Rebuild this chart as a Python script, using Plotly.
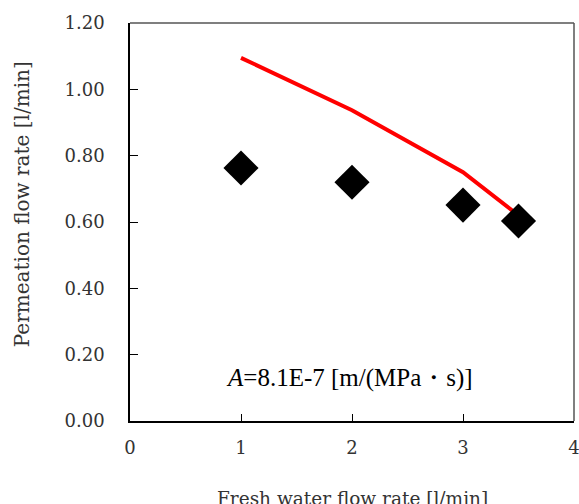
import plotly.graph_objects as go

meas_x = [1, 2, 3, 3.5]
meas_y = [0.763, 0.720, 0.651, 0.603]
calc_x = [1, 2, 3, 3.5]
calc_y = [1.095, 0.937, 0.750, 0.620]
x_ticks = [0, 1, 2, 3, 4]
y_ticks = [0.0, 0.2, 0.4, 0.6, 0.8, 1.0, 1.2]
y_tick_labels = ["0.00", "0.20", "0.40", "0.60", "0.80", "1.00", "1.20"]

FONT = "DejaVu Serif"
AFONT = "Liberation Serif"
TXT = "#333"

fig = go.Figure()
fig.add_trace(go.Scatter(x=calc_x, y=calc_y, mode="lines",
                         line=dict(color="#ff0000", width=4), showlegend=False))
fig.add_trace(go.Scatter(x=meas_x, y=meas_y, mode="markers",
                         marker=dict(symbol="diamond", size=27, color="black"),
                         showlegend=False))

fig.update_layout(
    width=579, height=504,
    margin=dict(l=130, r=5, t=23, b=83),
    paper_bgcolor="white", plot_bgcolor="white",
    font=dict(family=FONT, size=18, color=TXT),
    xaxis=dict(range=[0, 4], tickvals=x_ticks, showgrid=False, zeroline=False,
               showline=True, linecolor="black", linewidth=1.5, automargin=False,
               ticks="inside", ticklen=7, tickcolor="black", ticklabelstandoff=10,
               ticklabeloverflow="allow",
               tickfont=dict(family=FONT, size=18, color=TXT)),
    yaxis=dict(range=[0, 1.2], tickvals=y_ticks, ticktext=y_tick_labels,
               showgrid=False, zeroline=False, automargin=False,
               showline=True, linecolor="black", linewidth=1.5,
               ticks="inside", ticklen=8, tickcolor="black", ticklabelstandoff=20,
               ticklabeloverflow="allow",
               tickfont=dict(family=FONT, size=18, color=TXT)),
    shapes=[
        dict(type="line", xref="paper", yref="paper", x0=0, x1=1, y0=1, y1=1,
             line=dict(color="#555", width=1.5)),
        dict(type="line", xref="paper", yref="paper", x0=1, x1=1, y0=0, y1=1,
             line=dict(color="#555", width=1.5)),
    ],
    annotations=[
        dict(x=1.98, y=0.131, xref="x", yref="y", showarrow=False,
             text="<i>A</i>=8.1E-7 [m/(MPa・s)]",
             font=dict(family=AFONT, size=25, color="black")),
        dict(x=0.5, y=-0.163, xref="paper", yref="paper", showarrow=False,
             yanchor="top", text="Fresh water flow rate [l/min]",
             font=dict(family=FONT, size=18.5, color=TXT)),
        dict(x=-0.243, y=0.545, xref="paper", yref="paper", showarrow=False,
             textangle=-90, xanchor="center", yanchor="middle",
             text="Permeation flow rate [l/min]",
             font=dict(family=FONT, size=20, color=TXT)),
    ],
)

fig.write_html("out.html", config={"displayModeBar": False},
               post_script="document.body.style.margin='0px';")
